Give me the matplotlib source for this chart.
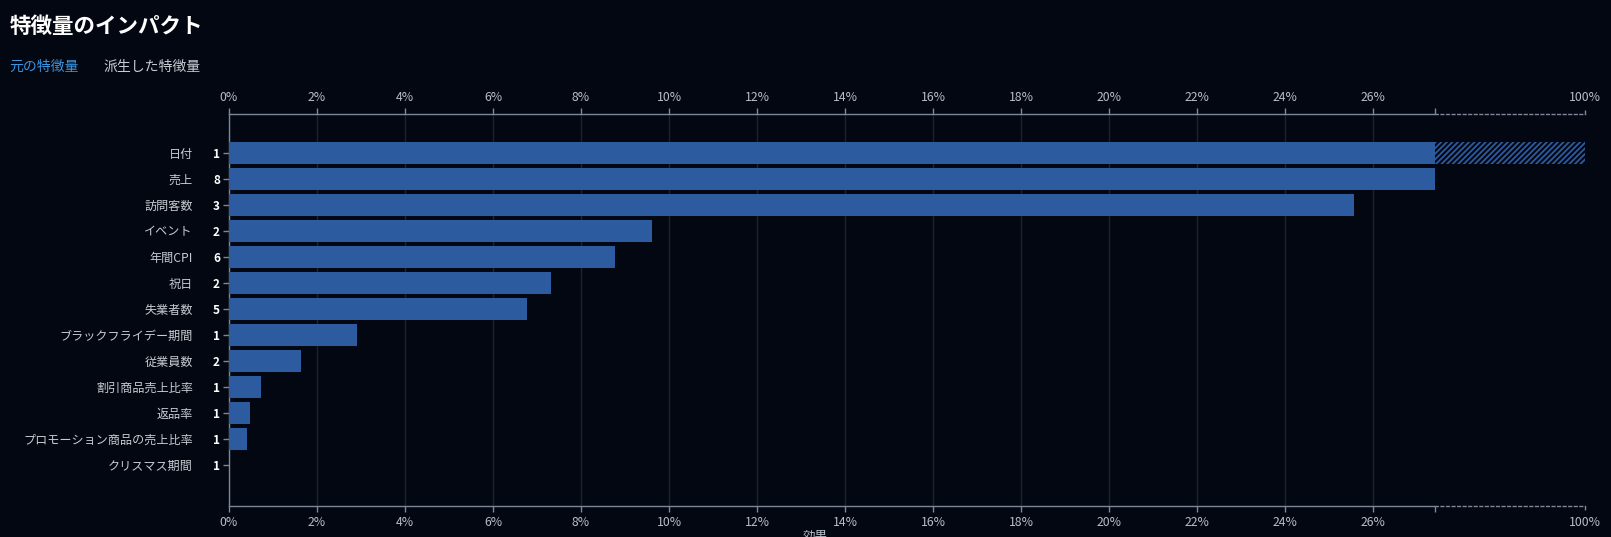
import matplotlib
matplotlib.use("Agg")
import matplotlib.pyplot as plt
from matplotlib.ticker import FixedLocator

plt.rcParams['font.family'] = ['Noto Sans CJK JP', 'DejaVu Sans']
plt.rcParams['hatch.linewidth'] = 1.3

# ---- data ----
features = ["日付", "売上", "訪問客数", "イベント", "年間CPI", "祝日", "失業者数",
            "ブラックフライデー期間", "従業員数", "割引商品売上比率", "返品率",
            "プロモーション商品の売上比率", "クリスマス期間"]
counts = [1, 8, 3, 2, 6, 2, 5, 1, 2, 1, 1, 1, 1]
impact = [100.0, 27.41, 25.56, 9.62, 8.78, 7.31, 6.77, 2.90, 1.64, 0.73, 0.47, 0.40, 0.0]
tick_vals = [0, 2, 4, 6, 8, 10, 12, 14, 16, 18, 20, 22, 24, 26]
tick_labels = [f"{v}%" for v in tick_vals]

BG = '#030711'
BAR = '#2c5ba0'
AXC = '#7d8797'
TXT = '#b8bec8'
GRID = '#1c232e'

W, H = 1611, 537
fig = plt.figure(figsize=(W / 100, H / 100), dpi=100, facecolor=BG)

brk = sorted(impact, reverse=True)[1]
xmax = max(impact)

x0, xb, x1 = 229, 1435, 1585
ytop, ybot = 114, 506
ax1 = fig.add_axes([x0 / W, 1 - ybot / H, (xb - x0) / W, (ybot - ytop) / H], facecolor=BG)
ax2 = fig.add_axes([xb / W, 1 - ybot / H, (x1 - xb) / W, (ybot - ytop) / H], facecolor=BG, sharey=ax1)

n = len(features)
ypos = list(range(n))
ax1.barh(ypos, [min(v, brk) for v in impact], height=0.87, color=BAR, zorder=3)
ext = [(i, v) for i, v in zip(ypos, impact) if v > brk]
ax2.barh([i for i, _ in ext], [v - brk for _, v in ext], left=brk, height=0.87,
         facecolor=BG, edgecolor=BAR, hatch='//////', linewidth=0, zorder=3)

ax1.set_xlim(0, brk)
ax2.set_xlim(brk, xmax)
ax1.set_ylim(n - 1 + 1.58, -1.5)

# x ticks (gridlines on the labelled ticks only; the break gets a bare tick mark)
ax1.xaxis.set_major_locator(FixedLocator(tick_vals))
ax1.set_xticklabels(tick_labels)
ax1.xaxis.set_minor_locator(FixedLocator([brk]))
ax1.tick_params(axis='x', which='both', top=True, bottom=True,
                length=4.5, width=1, color=AXC)
ax1.tick_params(axis='x', which='major', labeltop=True, labelbottom=True,
                labelcolor=TXT, labelsize=8.8, pad=2.5)
ax1.grid(axis='x', which='major', color=GRID, linewidth=1, zorder=0)
ax1.set_axisbelow(True)
for lab in ax1.get_xticklabels(which='major'):
    pass

ax2.xaxis.set_major_locator(FixedLocator([xmax]))
ax2.set_xticklabels(["100%"])
ax2.tick_params(axis='x', top=True, labeltop=True, bottom=True, labelbottom=True,
                length=3, width=1, color=AXC, labelcolor=TXT, labelsize=8.8, pad=4)
ax2.tick_params(axis='y', left=False, labelleft=False)

for s in ['top', 'bottom', 'left']:
    ax1.spines[s].set_color(AXC)
    ax1.spines[s].set_linewidth(1)
ax1.spines['right'].set_visible(False)
for s in ['top', 'bottom']:
    ax2.spines[s].set_color(AXC)
    ax2.spines[s].set_linewidth(1)
    ax2.spines[s].set_linestyle((0, (2, 2)))
ax2.spines['left'].set_visible(False)
ax2.spines['right'].set_visible(False)

# y ticks: counts (bold) + feature names
ax1.set_yticks(ypos)
ax1.set_yticklabels([str(c) for c in counts], fontweight='bold', color='white', fontsize=8.5)
ax1.tick_params(axis='y', length=4.5, width=1, color=AXC, pad=2)
for i, name in zip(ypos, features):
    ax1.annotate(name, xy=(0, i), xycoords=('axes fraction', 'data'),
                 xytext=(-26, -0.8), textcoords='offset points',
                 ha='right', va='center', color='#c8ccd2', fontsize=8.7)

# titles
fig.text(10 / W, 1 - 26 / H, "特徴量のインパクト", color='white', fontsize=15.5,
         fontweight='bold', ha='left', va='center')
fig.text(9 / W, 1 - 67 / H, "元の特徴量", color='#3b94e0', fontsize=10, ha='left', va='center')
fig.text(103 / W, 1 - 67 / H, "派生した特徴量", color='#c8ccd2', fontsize=10, ha='left', va='center')
fig.text(815 / W, 1 - 530 / H, "効果", color=TXT, fontsize=9, ha='center', va='top')

fig.savefig("out.png", dpi=100, facecolor=BG)
